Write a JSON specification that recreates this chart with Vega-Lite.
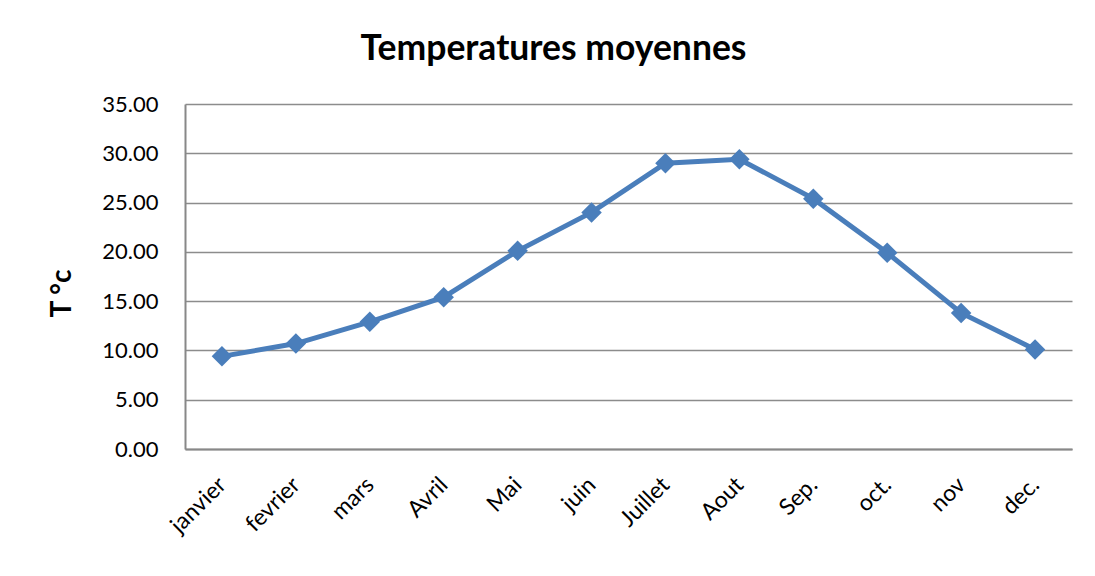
{
  "$schema": "https://vega.github.io/schema/vega-lite/v6.json",
  "width": 887,
  "height": 345,
  "autosize": {"type": "none"},
  "padding": {"left": 185, "top": 104, "right": 23, "bottom": 127},
  "background": "white",
  "title": {"text": "Temperatures moyennes", "font": "Lato", "fontSize": 35.5, "fontWeight": "bold", "color": "#000000", "anchor": "middle", "dx": -75, "offset": 26},
  "data": {"values": [
    {"mois": "janvier", "temp": 9.4},
    {"mois": "fevrier", "temp": 10.7},
    {"mois": "mars", "temp": 12.9},
    {"mois": "Avril", "temp": 15.4},
    {"mois": "Mai", "temp": 20.1},
    {"mois": "juin", "temp": 24.0},
    {"mois": "Juillet", "temp": 29.0},
    {"mois": "Aout", "temp": 29.4},
    {"mois": "Sep.", "temp": 25.4},
    {"mois": "oct.", "temp": 19.9},
    {"mois": "nov", "temp": 13.8},
    {"mois": "dec.", "temp": 10.1}
  ]},
  "mark": {"type": "line", "color": "#4a7ebb", "strokeWidth": 5, "point": {"shape": "diamond", "size": 420, "filled": true, "color": "#4a7ebb", "opacity": 1}},
  "encoding": {
    "x": {"field": "mois", "type": "nominal", "sort": null, "scale": {"type": "point", "padding": 0.5},
      "axis": {"title": null, "labelAngle": -45, "labelAlign": "right", "labelBaseline": "middle", "labelPadding": 32, "labelFont": "Lato", "labelFontSize": 23, "labelColor": "#000000", "ticks": false, "grid": false, "domainColor": "#888888", "domainWidth": 2}},
    "y": {"field": "temp", "type": "quantitative", "scale": {"domain": [0, 35], "nice": false},
      "axis": {"title": "T °c", "titleFont": "Lato", "titleFontSize": 28, "titleFontWeight": "bold", "titleColor": "#000000", "titleX": -123, "titleY": 189, "titleAlign": "center", "titleBaseline": "middle", "titleAngle": 270,
        "values": [0, 5, 10, 15, 20, 25, 30, 35], "format": ".2f", "labelFont": "Lato", "labelFontSize": 22, "labelColor": "#000000", "labelPadding": 27, "ticks": false, "grid": true, "gridColor": "#8c8c8c", "gridWidth": 1.5, "domainColor": "#888888", "domainWidth": 2}}
  },
  "config": {"view": {"stroke": null}}
}
